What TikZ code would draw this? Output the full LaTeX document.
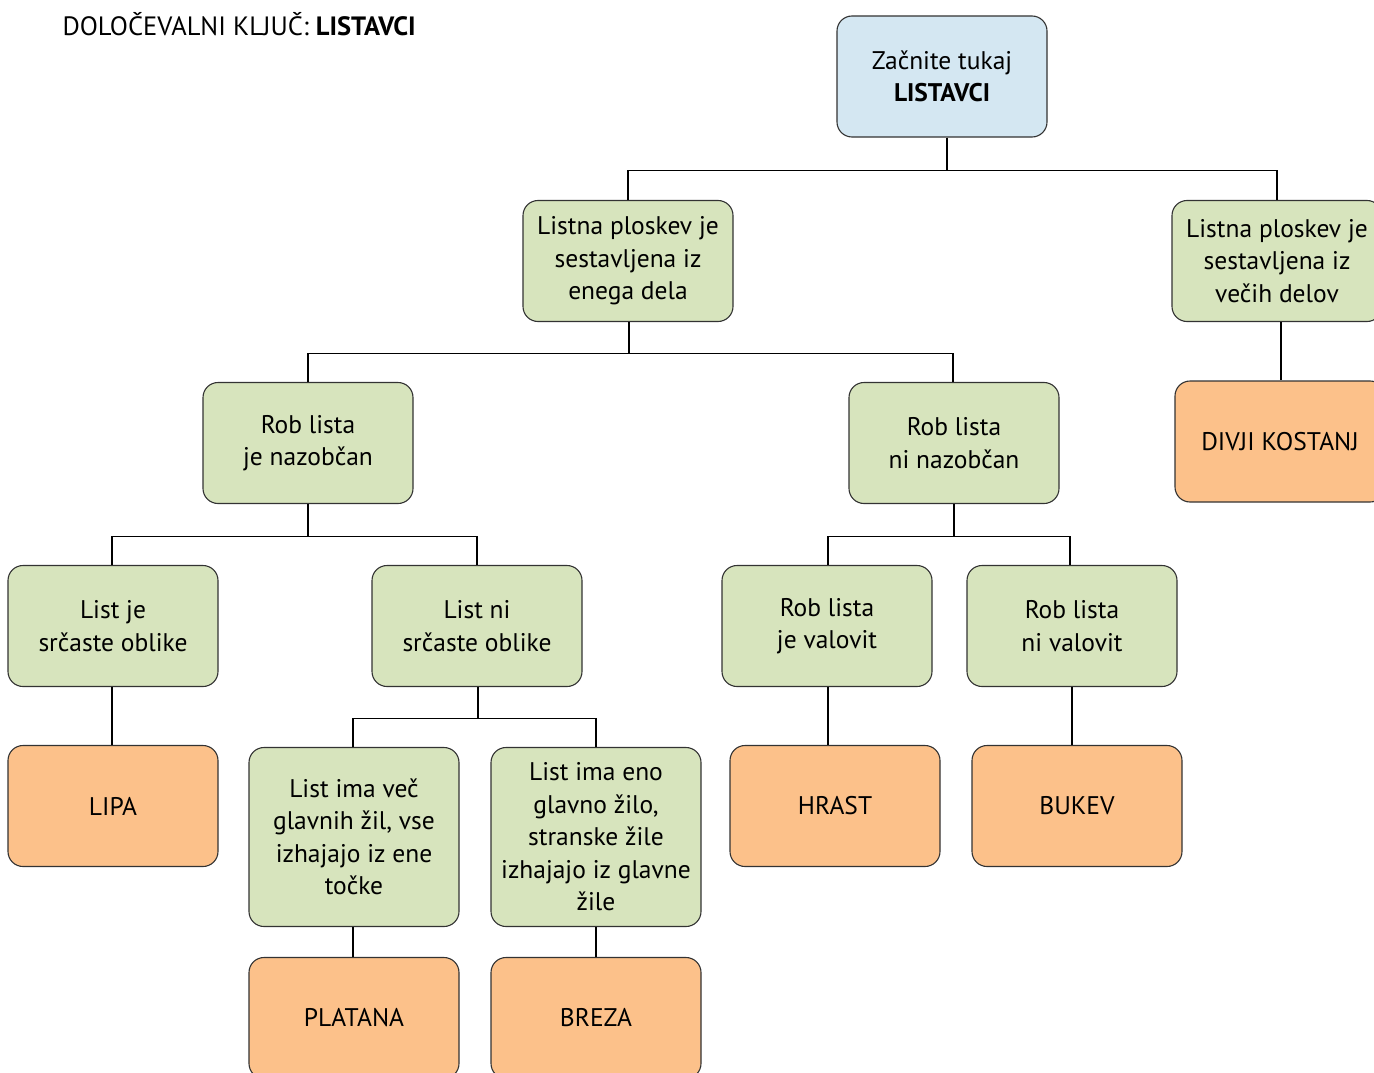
\documentclass[tikz,border=0pt]{standalone}
\usepackage{fontspec}
\setmainfont{PT Sans}
\usepackage{xcolor}
\usetikzlibrary{arrows,shapes,calc,positioning}
\definecolor{modra}{HTML}{D4E7F2}
\definecolor{zelena}{HTML}{D7E4BD}
\definecolor{oranzna}{HTML}{FCC18A}
\definecolor{rob}{HTML}{333333}

\begin{document}
\begin{tikzpicture}[x=1pt,y=-1pt]
			\tikzstyle{every node}=[font=\fontsize{25.5}{32.5}\selectfont, align=center]
			\tikzstyle{polje}=[draw=rob, line width=1.1pt, rounded corners=15pt, minimum width=210pt, minimum height=121pt, inner sep=0pt]
			\tikzstyle{vpr}=[polje, fill=zelena]
			\tikzstyle{rez}=[polje, fill=oranzna]
			\tikzstyle{vez}=[line width=1.1pt, draw=black]
			\useasboundingbox (0,0) rectangle (1374,1073);
			\clip (0,0) rectangle (1374,1073);
			\node [anchor=west, font=\fontsize{26.5}{32}\selectfont] (naslov) at (59,24) {DOLOČEVALNI KLJUČ: \textbf{LISTAVCI}};
			\node [polje, fill=modra] (zacetek) at (942,76.5) {Začnite tukaj\\\textbf{LISTAVCI}};
			\node [vpr] (enodel) at (628,261) {Listna ploskev je\\sestavljena iz\\enega dela};
			\node [vpr] (vecdel) at (1277,261) {Listna ploskev je\\sestavljena iz\\večih delov};
			\node [rez] (kostanj) at (1280,441.5) {DIVJI KOSTANJ};
			\node [vpr] (nazob) at (308,443) {Rob lista\\je nazobčan};
			\node [vpr] (ninazob) at (954,443) {Rob lista\\ni nazobčan};
			\node [vpr] (srce) at (113,626) {List je\\srčaste oblike};
			\node [vpr] (nisrce) at (477,626) {List ni\\srčaste oblike};
			\node [vpr] (valov) at (827,626) {Rob lista\\je valovit};
			\node [vpr] (nivalov) at (1072,626) {Rob lista\\ni valovit};
			\node [rez] (lipa) at (113,806) {LIPA};
			\node [vpr, minimum height=179pt] (veczil) at (354,837) {List ima več\\glavnih žil, vse\\izhajajo iz ene\\točke};
			\node [vpr, minimum height=179pt] (enozilo) at (596,837) {List ima eno\\glavno žilo,\\stranske žile\\izhajajo iz glavne\\žile};
			\node [rez] (hrast) at (835,806) {HRAST};
			\node [rez] (bukev) at (1077,806) {BUKEV};
			\node [rez] (platana) at (354,1018) {PLATANA};
			\node [rez] (breza) at (596,1018) {BREZA};
			% povezave
			\draw [vez] ([xshift=5pt]zacetek.south) -- ++(0,33) -| (enodel.north);
			\draw [vez] ([xshift=5pt]zacetek.south) -- ++(0,33) -| (vecdel.north);
			\draw [vez] ([xshift=4pt]vecdel.south) -- ([xshift=1pt]kostanj.north);
			\draw [vez] ([xshift=1pt]enodel.south) -- ++(0,31) -| (nazob.north);
			\draw [vez] ([xshift=1pt]enodel.south) -- ++(0,31) -| ([xshift=-1pt]ninazob.north);
			\draw [vez] (nazob.south) -- ++(0,32) -| ([xshift=-1pt]srce.north);
			\draw [vez] (nazob.south) -- ++(0,32) -| (nisrce.north);
			\draw [vez] (ninazob.south) -- ++(0,32) -| ([xshift=1pt]valov.north);
			\draw [vez] (ninazob.south) -- ++(0,32) -| ([xshift=-2pt]nivalov.north);
			\draw [vez] ([xshift=-1pt]srce.south) -- ([xshift=-1pt]lipa.north);
			\draw [vez] ([xshift=1pt]nisrce.south) -- ++(0,31) -| ([xshift=-1pt]veczil.north);
			\draw [vez] ([xshift=1pt]nisrce.south) -- ++(0,31) -| (enozilo.north);
			\draw [vez] ([xshift=1pt]valov.south) -- ([xshift=-7pt]hrast.north);
			\draw [vez] (nivalov.south) -- ([xshift=-5pt]bukev.north);
			\draw [vez] ([xshift=-1pt]veczil.south) -- ([xshift=-1pt]platana.north);
			\draw [vez] (enozilo.south) -- (breza.north);
		\end{tikzpicture}
\end{document}
